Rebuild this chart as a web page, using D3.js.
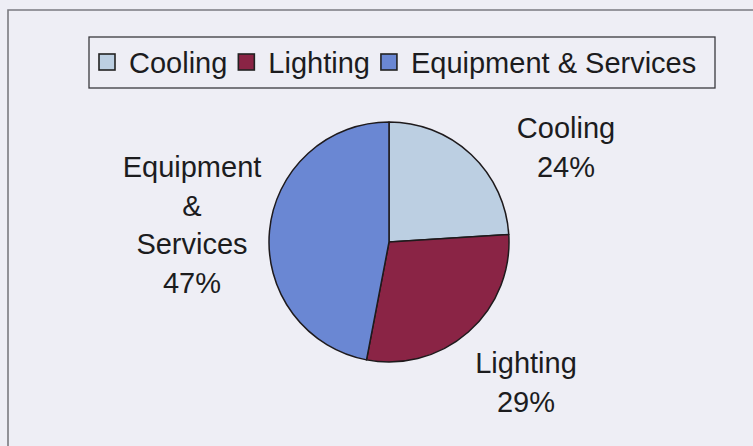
<!DOCTYPE html>
<html>
<head>
<meta charset="utf-8">
<script src="https://cdn.jsdelivr.net/npm/d3@7"></script>
<style>
  html, body { margin: 0; padding: 0; background: #eeeef5; }
  svg { display: block; }
  text { font-family: "Liberation Sans", Arial, sans-serif; fill: #1c1c1e; }
</style>
</head>
<body>
<svg id="chart" width="753" height="446"></svg>
<script>
// Energy use breakdown
const categories = ["Cooling", "Lighting", "Equipment & Services"];
const shares = [24, 29, 47];
const colors = ["#bccfe2", "#8a2445", "#6a87d3"];
// Slice labels, line by line
const labelLines = [
  ["Cooling", "24%"],
  ["Lighting", "29%"],
  ["Equipment", "&", "Services", "47%"]
];

const W = 753, H = 446;
const svg = d3.select("#chart");

// page tone
svg.append("rect").attr("width", W).attr("height", H).attr("fill", "#eeeef5");

// chart frame (extends past the right and bottom edges)
svg.append("path")
  .attr("d", `M8,${H + 5} V10 H${W + 5}`)
  .attr("fill", "none")
  .attr("stroke", "#7a7a80")
  .attr("stroke-width", 1.6);

// pie
const cx = 389, cy = 242, r = 120;
const pie = d3.pie().sort(null).value(d => d)(shares);
const arc = d3.arc().innerRadius(0).outerRadius(r);
const g = svg.append("g").attr("transform", `translate(${cx},${cy})`);
g.selectAll("path.slice")
  .data(pie)
  .join("path")
  .attr("class", "slice")
  .attr("d", arc)
  .attr("fill", (d, i) => colors[i])
  .attr("stroke", "#1e1a1c")
  .attr("stroke-width", 1.5)
  .attr("stroke-linejoin", "round");

// data labels placed outside each slice
const fs = 29, lh = 38.5;
const labelPos = [
  { x: 566, y: 138 },
  { x: 526, y: 373 },
  { x: 192, y: 177 }
];
labelLines.forEach((lines, i) => {
  const t = svg.append("text")
    .attr("text-anchor", "middle")
    .attr("font-size", fs);
  lines.forEach((s, j) => {
    t.append("tspan")
      .attr("x", labelPos[i].x)
      .attr("y", labelPos[i].y + j * lh)
      .text(s);
  });
});

// legend
const legend = svg.append("g");
legend.append("rect")
  .attr("x", 89).attr("y", 37)
  .attr("width", 626).attr("height", 51)
  .attr("fill", "#eeeef5")
  .attr("stroke", "#3a3a3e")
  .attr("stroke-width", 1.3);
let lx = 99;
const sq = 16, baseline = 73;
categories.forEach((c, i) => {
  legend.append("rect")
    .attr("x", lx).attr("y", baseline - 19)
    .attr("width", sq).attr("height", sq)
    .attr("fill", colors[i])
    .attr("stroke", "#222")
    .attr("stroke-width", 1.6);
  const t = legend.append("text")
    .attr("x", lx + sq + 14)
    .attr("y", baseline)
    .attr("font-size", fs)
    .text(c);
  lx = lx + sq + 14 + t.node().getComputedTextLength() + 11;
});
</script>
</body>
</html>
